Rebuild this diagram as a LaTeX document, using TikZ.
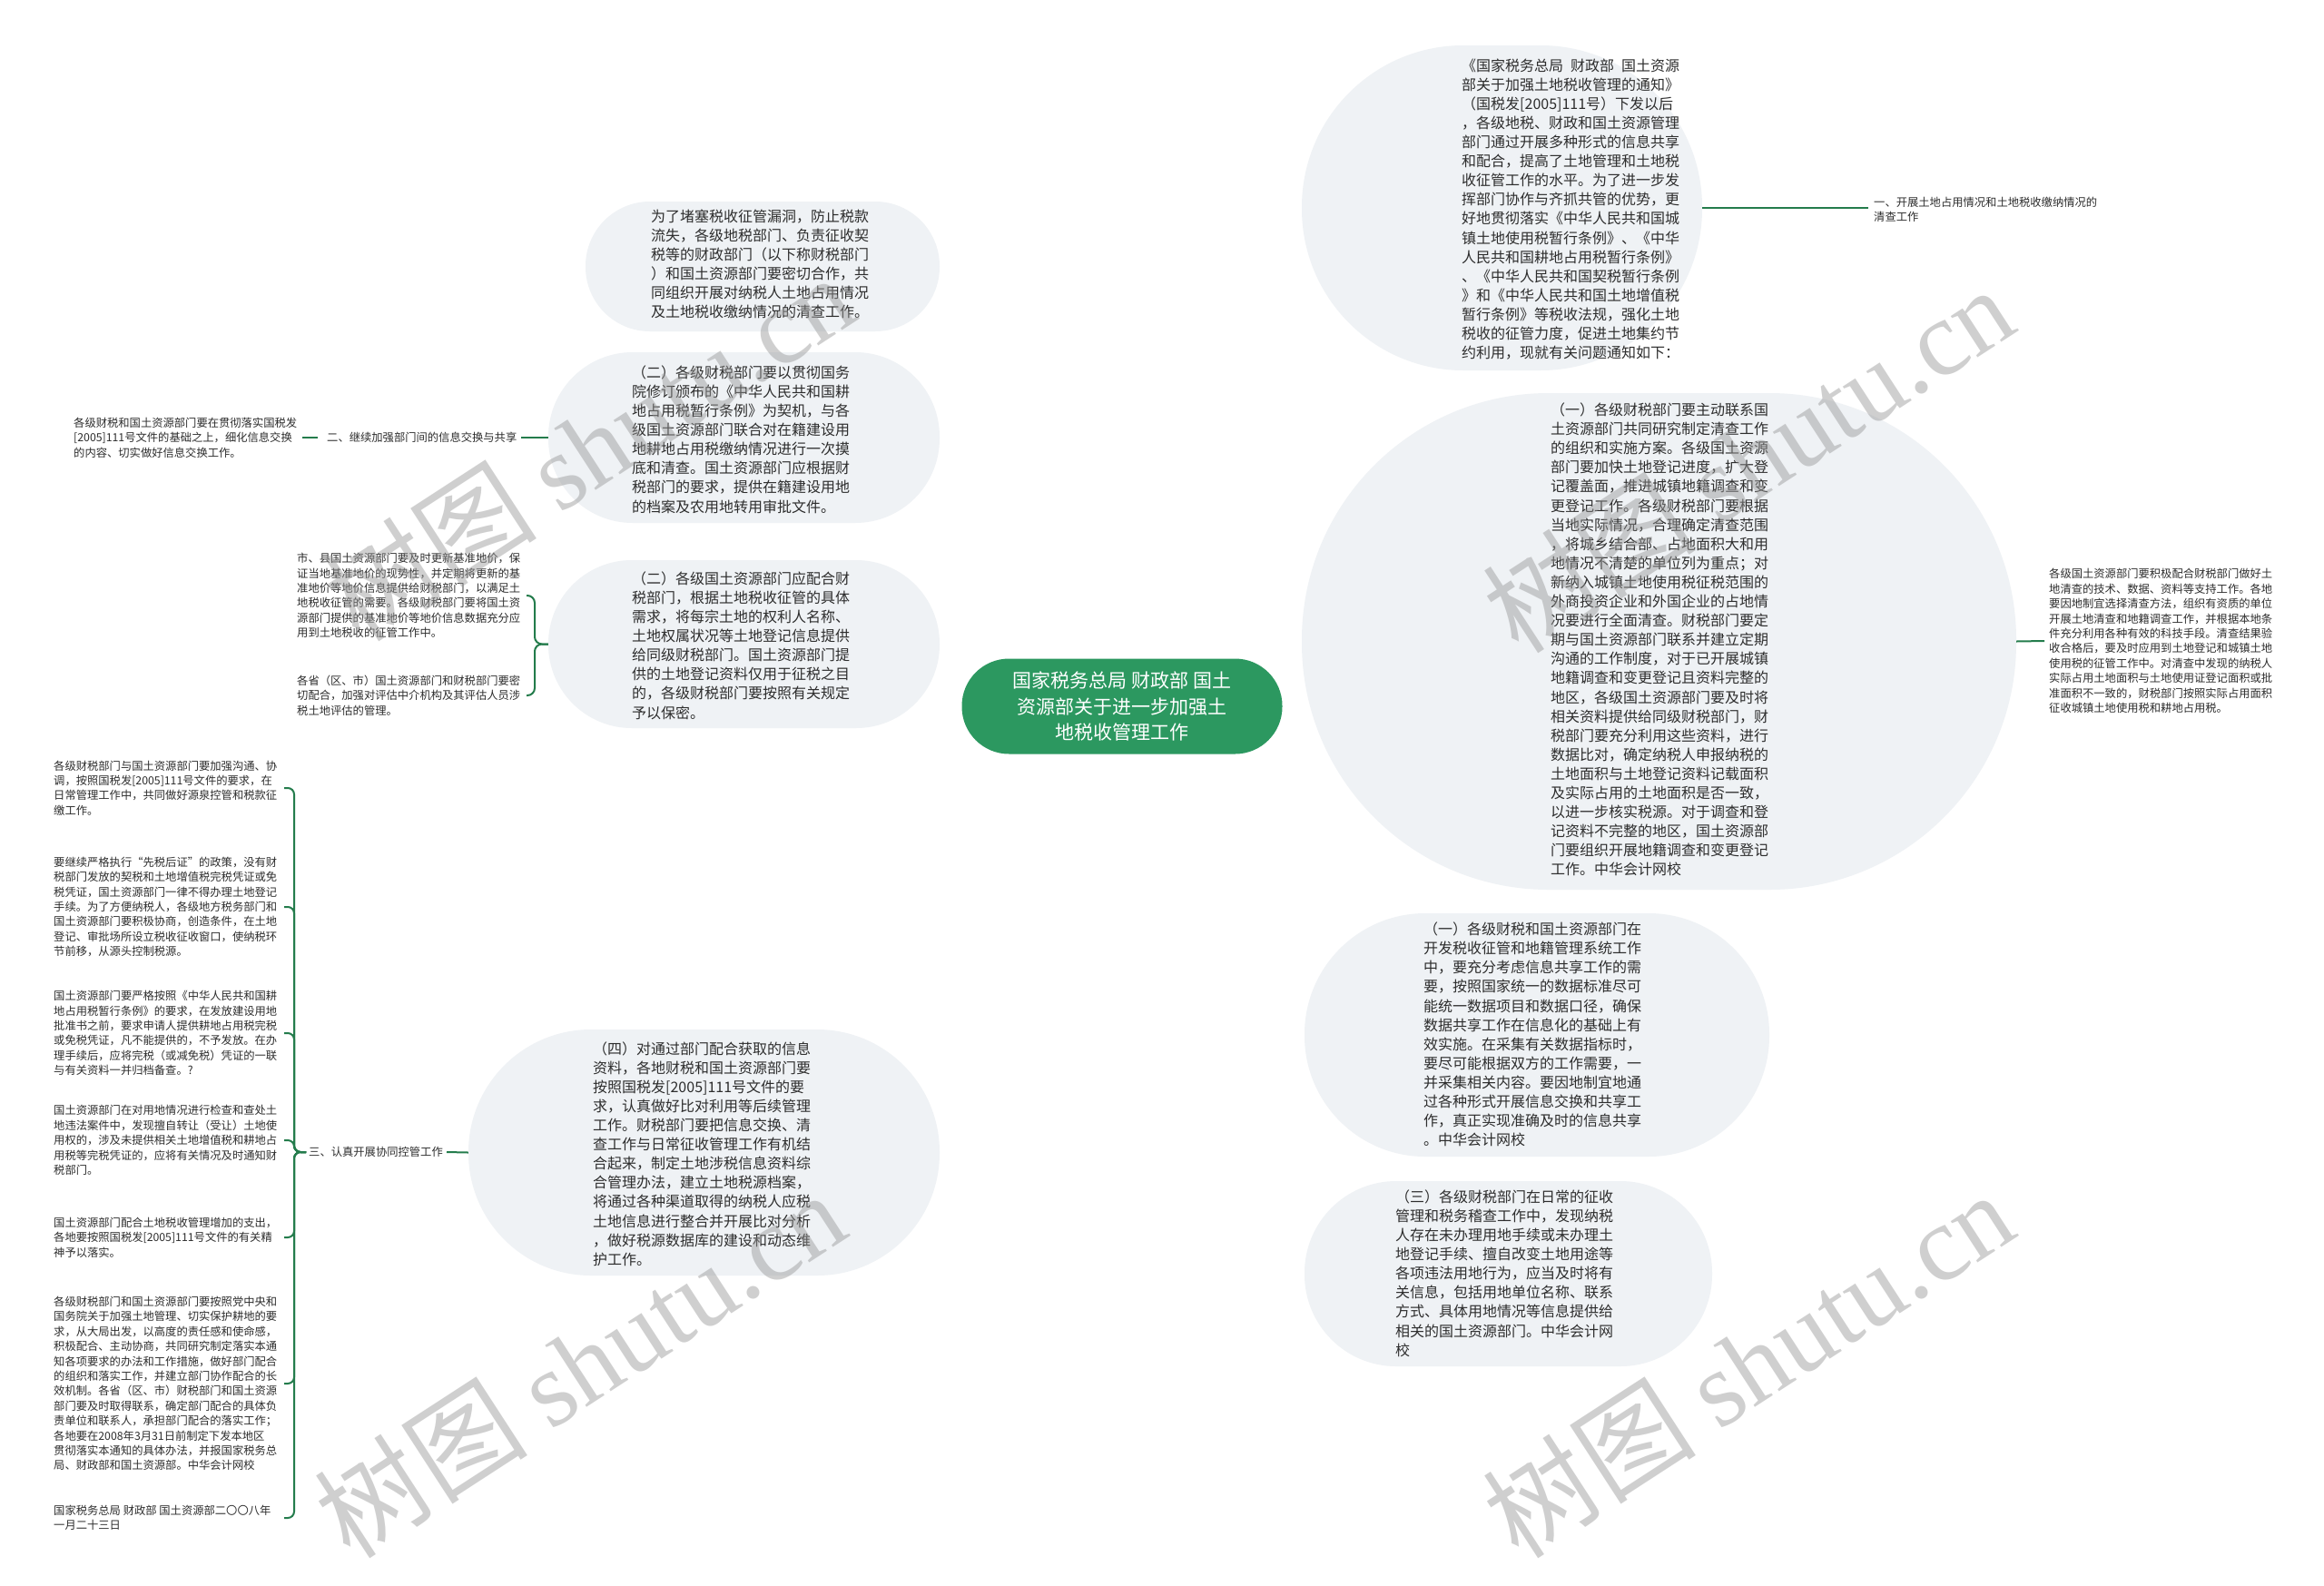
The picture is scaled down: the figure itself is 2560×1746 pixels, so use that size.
\documentclass[tikz,border=0pt]{standalone}
\usepackage{fontspec}
\setmainfont{Noto Sans CJK SC}
\newfontfamily\wmlat{Liberation Serif}
\usetikzlibrary{calc}
\definecolor{bubblefill}{RGB}{239,242,245}
\definecolor{linegreen}{RGB}{36,124,76}
\definecolor{rootgreen}{RGB}{44,152,96}
\definecolor{txt}{RGB}{45,45,45}
\definecolor{wmgray}{RGB}{150,150,150}
\pgfdeclarelayer{bg}\pgfdeclarelayer{fg}\pgfsetlayers{bg,main,fg}
\newcommand\mmconn[2]{\draw[conn] (#1.center) .. controls (#1.center |- #2) and ($(#1.center |- #2)!0.5!(#2)$) .. (#2);}
\begin{document}
\begin{tikzpicture}[x=1pt,y=-1pt,
  bubble/.style={rectangle, fill=bubblefill, draw=none, inner sep=0pt},
  btext/.style={font=\fontsize{16pt}{21.1pt}\selectfont, align=left, anchor=west, inner sep=0pt, text=txt},
  stext/.style={font=\fontsize{12.3pt}{16.4pt}\selectfont, align=left, anchor=west, inner sep=0pt, text=txt},
  conn/.style={draw=linegreen, line width=2pt},
  root/.style={rectangle, rounded corners=52pt, fill=rootgreen, minimum width=353pt, minimum height=105pt, text=white, align=center, font=\fontsize{21pt}{28.5pt}\selectfont, inner sep=0pt},
  wm/.style={text=wmgray, opacity=0.45, font=\fontsize{118pt}{118pt}\selectfont, inner sep=0pt, rotate=33}]
\useasboundingbox[fill=white] (0,0) rectangle (2560,1746);

% root
\node[root] (C) at (1236,778) {国家税务总局 财政部 国土\\资源部关于进一步加强土\\地税收管理工作};

% bubbles
\node[bubble, minimum width=441pt, minimum height=358pt, rounded corners=178pt] (R1) at (1654.5,229) {};
\node[bubble, minimum width=787pt, minimum height=547pt, rounded corners=272pt] (R2) at (1827.5,706.5) {};
\node[bubble, minimum width=512pt, minimum height=268pt, rounded corners=133pt] (R3) at (1693,1140) {};
\node[bubble, minimum width=449pt, minimum height=204pt, rounded corners=101pt] (R4) at (1661.5,1403) {};
\node[bubble, minimum width=390pt, minimum height=143pt, rounded corners=71pt] (L1) at (840,293.5) {};
\node[bubble, minimum width=431pt, minimum height=188pt, rounded corners=93pt] (L2) at (819.5,482) {};
\node[bubble, minimum width=431pt, minimum height=185pt, rounded corners=92pt] (L3) at (819.5,709.5) {};
\node[bubble, minimum width=519pt, minimum height=271pt, rounded corners=135pt] (L4) at (775.5,1269.5) {};

% bubble texts
\node[btext] (R1t) at (1610,230.5) {《国家税务总局\hspace{0.5em}财政部\hspace{0.5em}国土资源\\部关于加强土地税收管理的通知》\\（国税发{[}2005{]}111号）下发以后\\，各级地税、财政和国土资源管理\\部门通过开展多种形式的信息共享\\和配合，提高了土地管理和土地税\\收征管工作的水平。为了进一步发\\挥部门协作与齐抓共管的优势，更\\好地贯彻落实《中华人民共和国城\\镇土地使用税暂行条例》、《中华\\人民共和国耕地占用税暂行条例》\\、《中华人民共和国契税暂行条例\\》和《中华人民共和国土地增值税\\暂行条例》等税收法规，强化土地\\税收的征管力度，促进土地集约节\\约利用，现就有关问题通知如下：};
\node[btext] (R2t) at (1708,704.5) {（一）各级财税部门要主动联系国\\土资源部门共同研究制定清查工作\\的组织和实施方案。各级国土资源\\部门要加快土地登记进度，扩大登\\记覆盖面，推进城镇地籍调查和变\\更登记工作。各级财税部门要根据\\当地实际情况，合理确定清查范围\\，将城乡结合部、占地面积大和用\\地情况不清楚的单位列为重点；对\\新纳入城镇土地使用税征税范围的\\外商投资企业和外国企业的占地情\\况要进行全面清查。财税部门要定\\期与国土资源部门联系并建立定期\\沟通的工作制度，对于已开展城镇\\地籍调查和变更登记且资料完整的\\地区，各级国土资源部门要及时将\\相关资料提供给同级财税部门，财\\税部门要充分利用这些资料，进行\\数据比对，确定纳税人申报纳税的\\土地面积与土地登记资料记载面积\\及实际占用的土地面积是否一致，\\以进一步核实税源。对于调查和登\\记资料不完整的地区，国土资源部\\门要组织开展地籍调查和变更登记\\工作。中华会计网校};
\node[btext] (R3t) at (1568,1139.5) {（一）各级财税和国土资源部门在\\开发税收征管和地籍管理系统工作\\中，要充分考虑信息共享工作的需\\要，按照国家统一的数据标准尽可\\能统一数据项目和数据口径，确保\\数据共享工作在信息化的基础上有\\效实施。在采集有关数据指标时，\\要尽可能根据双方的工作需要，一\\并采集相关内容。要因地制宜地通\\过各种形式开展信息交换和共享工\\作，真正实现准确及时的信息共享\\。中华会计网校};
\node[btext] (R4t) at (1537,1402.5) {（三）各级财税部门在日常的征收\\管理和税务稽查工作中，发现纳税\\人存在未办理用地手续或未办理土\\地登记手续、擅自改变土地用途等\\各项违法用地行为，应当及时将有\\关信息，包括用地单位名称、联系\\方式、具体用地情况等信息提供给\\相关的国土资源部门。中华会计网\\校};
\node[btext] (L1t) at (717,291) {为了堵塞税收征管漏洞，防止税款\\流失，各级地税部门、负责征收契\\税等的财政部门（以下称财税部门\\）和国土资源部门要密切合作，共\\同组织开展对纳税人土地占用情况\\及土地税收缴纳情况的清查工作。};
\node[btext] (L2t) at (696,484) {（二）各级财税部门要以贯彻国务\\院修订颁布的《中华人民共和国耕\\地占用税暂行条例》为契机，与各\\级国土资源部门联合对在籍建设用\\地耕地占用税缴纳情况进行一次摸\\底和清查。国土资源部门应根据财\\税部门的要求，提供在籍建设用地\\的档案及农用地转用审批文件。};
\node[btext] (L3t) at (696,711) {（二）各级国土资源部门应配合财\\税部门，根据土地税收征管的具体\\需求，将每宗土地的权利人名称、\\土地权属状况等土地登记信息提供\\给同级财税部门。国土资源部门提\\供的土地登记资料仅用于征税之目\\的，各级财税部门要按照有关规定\\予以保密。};
\node[btext] (L4t) at (653,1271) {（四）对通过部门配合获取的信息\\资料，各地财税和国土资源部门要\\按照国税发{[}2005{]}111号文件的要\\求，认真做好比对利用等后续管理\\工作。财税部门要把信息交换、清\\查工作与日常征收管理工作有机结\\合起来，制定土地涉税信息资料综\\合管理办法，建立土地税源档案，\\将通过各种渠道取得的纳税人应税\\土地信息进行整合并开展比对分析\\，做好税源数据库的建设和动态维\\护工作。};

% small texts
\node[stext] (LB1) at (2064,231) {一、开展土地占用情况和土地税收缴纳情况的\\清查工作};
\node[stext] (FR) at (2257,706) {各级国土资源部门要积极配合财税部门做好土\\地清查的技术、数据、资料等支持工作。各地\\要因地制宜选择清查方法，组织有资质的单位\\开展土地清查和地籍调查工作，并根据本地条\\件充分利用各种有效的科技手段。清查结果验\\收合格后，要及时应用到土地登记和城镇土地\\使用税的征管工作中。对清查中发现的纳税人\\实际占用土地面积与土地使用证登记面积或批\\准面积不一致的，财税部门按照实际占用面积\\征收城镇土地使用税和耕地占用税。};
\node[stext] (LB2) at (360,482) {二、继续加强部门间的信息交换与共享};
\node[stext] (LT2) at (81,482) {各级财税和国土资源部门要在贯彻落实国税发\\{[}2005{]}111号文件的基础之上，细化信息交换\\的内容、切实做好信息交换工作。};
\node[stext] (B1) at (327,656) {市、县国土资源部门要及时更新基准地价，保\\证当地基准地价的现势性，并定期将更新的基\\准地价等地价信息提供给财税部门，以满足土\\地税收征管的需要。各级财税部门要将国土资\\源部门提供的基准地价等地价信息数据充分应\\用到土地税收的征管工作中。};
\node[stext] (B2) at (327,766) {各省（区、市）国土资源部门和财税部门要密\\切配合，加强对评估中介机构及其评估人员涉\\税土地评估的管理。};
\node[stext] (LB3) at (340,1269) {三、认真开展协同控管工作};
\node[stext] (T1) at (59,868) {各级财税部门与国土资源部门要加强沟通、协\\调，按照国税发{[}2005{]}111号文件的要求，在\\日常管理工作中，共同做好源泉控管和税款征\\缴工作。};
\node[stext] (T2) at (59,999) {要继续严格执行“先税后证”的政策，没有财\\税部门发放的契税和土地增值税完税凭证或免\\税凭证，国土资源部门一律不得办理土地登记\\手续。为了方便纳税人，各级地方税务部门和\\国土资源部门要积极协商，创造条件，在土地\\登记、审批场所设立税收征收窗口，使纳税环\\节前移，从源头控制税源。};
\node[stext] (T3) at (59,1138) {国土资源部门要严格按照《中华人民共和国耕\\地占用税暂行条例》的要求，在发放建设用地\\批准书之前，要求申请人提供耕地占用税完税\\或免税凭证，凡不能提供的，不予发放。在办\\理手续后，应将完税（或减免税）凭证的一联\\与有关资料一并归档备查。?};
\node[stext] (T4) at (59,1256) {国土资源部门在对用地情况进行检查和查处土\\地违法案件中，发现擅自转让（受让）土地使\\用权的，涉及未提供相关土地增值税和耕地占\\用税等完税凭证的，应将有关情况及时通知财\\税部门。};
\node[stext] (T5) at (59,1363) {国土资源部门配合土地税收管理增加的支出，\\各地要按照国税发{[}2005{]}111号文件的有关精\\神予以落实。};
\node[stext] (T6) at (59,1524) {各级财税部门和国土资源部门要按照党中央和\\国务院关于加强土地管理、切实保护耕地的要\\求，从大局出发，以高度的责任感和使命感，\\积极配合、主动协商，共同研究制定落实本通\\知各项要求的办法和工作措施，做好部门配合\\的组织和落实工作，并建立部门协作配合的长\\效机制。各省（区、市）财税部门和国土资源\\部门要及时取得联系，确定部门配合的具体负\\责单位和联系人，承担部门配合的落实工作；\\各地要在2008年3月31日前制定下发本地区\\贯彻落实本通知的具体办法，并报国家税务总\\局、财政部和国土资源部。中华会计网校};
\node[stext] (T7) at (59,1672) {国家税务总局 财政部 国土资源部二〇〇八年\\一月二十三日};

% brace coordinates
\coordinate (braceB) at (589,0);
\coordinate (tipB) at (580,0);
\coordinate (braceT) at (324,0);
\coordinate (tipT) at (313,0);

\begin{pgfonlayer}{bg}
  \mmconn{C}{R1.west}
  \mmconn{C}{R2.west}
  \mmconn{C}{R3.west}
  \mmconn{C}{R4.west}
  \mmconn{C}{L1.east}
  \mmconn{C}{L2.east}
  \mmconn{C}{L3.east}
  \mmconn{C}{L4.east}
\end{pgfonlayer}

\draw[conn] (R1.east) -- ([xshift=-6pt]LB1.west |- R1.east);
\draw[conn] (R2.east) -- ([xshift=-5pt]FR.west);
\draw[conn] (L2.west) -- ([xshift=4pt]LB2.east);
\draw[conn] ([xshift=-10pt]LB2.west) -- ([xshift=6pt]LT2.east);
\draw[conn] (L4.west) -- ([xshift=4pt]LB3.east);

\draw[conn, rounded corners=8pt] (L3.west) -- (braceB |- L3.west) |- (tipB |- B1.west);
\draw[conn, rounded corners=8pt] (L3.west) -- (braceB |- L3.west) |- (tipB |- B2.west);

\foreach \t in {T1,T2,T3,T4,T5,T6,T7}{
  \draw[conn, rounded corners=7pt] ([xshift=-3pt]LB3.west) -- (braceT |- LB3.west) |- (tipT |- \t.west);
}

% watermarks
\begin{pgfonlayer}{fg}
  \node[wm] (wm1) at (1925,505) {树图 {\wmlat shutu.cn}};
  \node[wm] (wm2) at (648,492) {树图 {\wmlat shutu.cn}};
  \node[wm] (wm3) at (638,1502) {树图 {\wmlat shutu.cn}};
  \node[wm] (wm4) at (1925,1502) {树图 {\wmlat shutu.cn}};
\end{pgfonlayer}
\end{tikzpicture}
\end{document}
